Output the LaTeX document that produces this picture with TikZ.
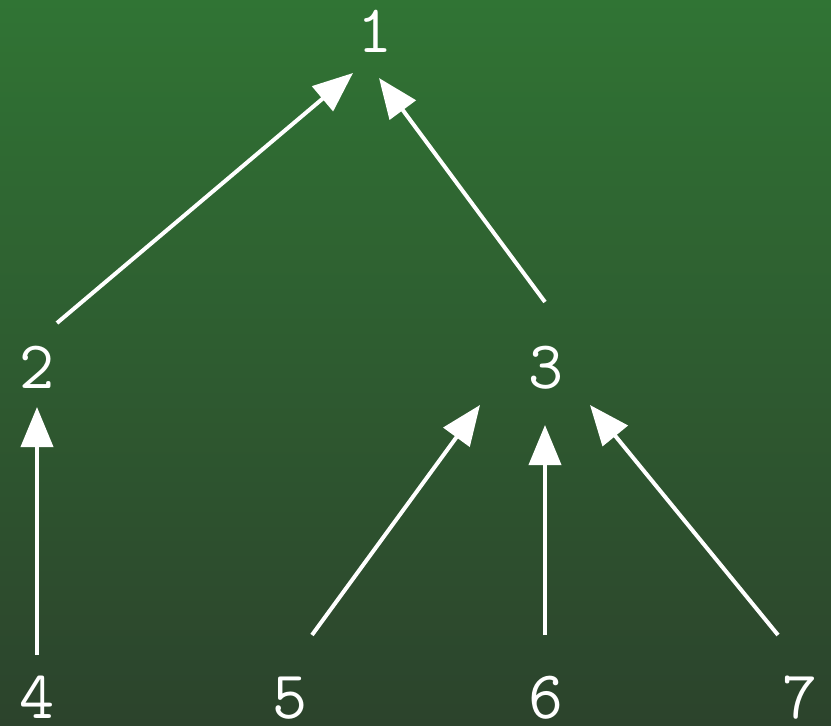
\documentclass[tikz,border=0pt]{standalone}
\usetikzlibrary{arrows.meta}
\definecolor{bgtop}{RGB}{48,116,52}
\definecolor{bgbot}{RGB}{44,67,44}
\tikzset{
  lbl/.style={anchor=base, inner sep=0pt, text=white, font=\fontsize{68}{68}\selectfont\ttfamily},
  arr/.style={draw=white, line width=4pt, -{Triangle[length=40pt,width=32pt]}}
}
\begin{document}
\begin{tikzpicture}[x=1pt,y=-1pt]
\shade[top color=bgtop, bottom color=bgbot] (0,0) rectangle (831,726);
\useasboundingbox (0,0) rectangle (831,726);
\node[lbl] (n1) at (375,52) {1};
\node[lbl] (n2) at (37,388) {2};
\node[lbl] (n3) at (546,388) {3};
\node[lbl] (n4) at (37,718) {4};
\node[lbl] (n5) at (290,718) {5};
\node[lbl] (n6) at (546,718) {6};
\node[lbl] (n7) at (800,718) {7};
\draw[arr] ([shift={(20,-65)}]n2.base) -- ([shift={(-22,21)}]n1.base);
\draw[arr] ([shift={(-1,-86)}]n3.base) -- ([shift={(4,26)}]n1.base);
\draw[arr] ([shift={(0,-63)}]n4.base) -- ([shift={(0,19)}]n2.base);
\draw[arr] ([shift={(22,-83)}]n5.base) -- ([shift={(-66,17)}]n3.base);
\draw[arr] ([shift={(-1,-83)}]n6.base) -- ([shift={(-1,37)}]n3.base);
\draw[arr] ([shift={(-22,-83)}]n7.base) -- ([shift={(44,17)}]n3.base);
\end{tikzpicture}
\end{document}
